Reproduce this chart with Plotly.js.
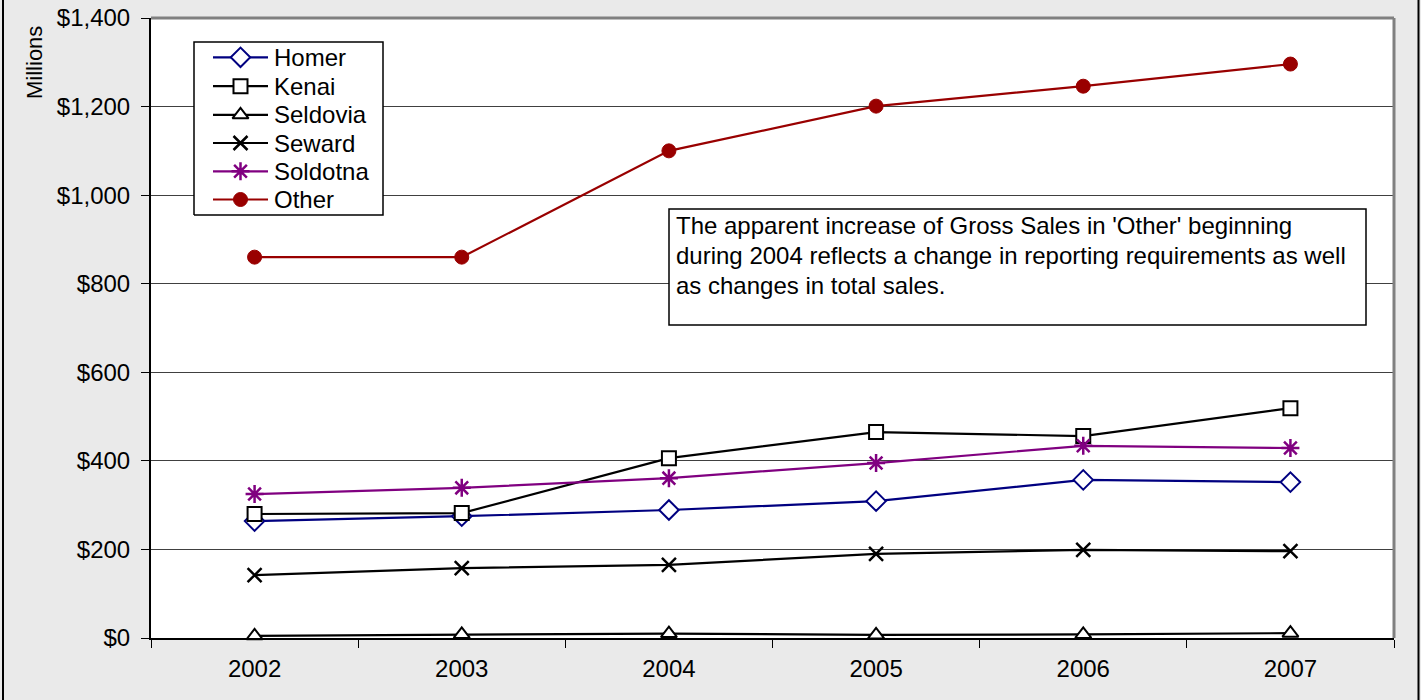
<!DOCTYPE html>
<html>
<head>
<meta charset="utf-8">
<script src="https://cdn.plot.ly/plotly-3.0.1.min.js"></script>
<style>html,body{margin:0;padding:0;background:#EAEAEA;}#chart{width:1421px;height:700px;}</style>
</head>
<body>
<div id="chart"></div>
<script>
const years = ['2002', '2003', '2004', '2005', '2006', '2007'];
const seriesNames = ['Homer', 'Kenai', 'Seldovia', 'Seward', 'Soldotna', 'Other'];
const homer = [264, 275, 289, 309, 357, 352];
const kenai = [280, 282, 406, 465, 456, 519];
const seldovia = [5, 8, 10, 7, 8, 11];
const seward = [142, 158, 165, 190, 199, 196];
const soldotna = [325, 339, 361, 395, 434, 429];
const other = [860, 860, 1100, 1201, 1246, 1296];
const yTicks = [0, 200, 400, 600, 800, 1000, 1200, 1400];
const noteLines = [
  "The apparent increase of Gross Sales in 'Other' beginning",
  "during 2004 reflects a change in reporting requirements as well",
  "as changes in total sales."
];

const FONT = 'Liberation Sans, Arial, sans-serif';
const FS = 24;

// styles (color, symbol, size, fill, marker line width)
const styles = [
  {color: '#000080', symbol: 'diamond', size: 15, fill: '#FFFFFF', mlw: 2},
  {color: '#000000', symbol: 'square', size: 14, fill: '#FFFFFF', mlw: 2},
  {color: '#000000', symbol: 'triangle-up', size: 14, fill: '#FFFFFF', mlw: 2},
  {color: '#000000', symbol: 'x-thin', size: 14, fill: '#000000', mlw: 2.5},
  {color: '#800080', symbol: 'asterisk', size: 15, fill: '#800080', mlw: 2.5},
  {color: '#990000', symbol: 'circle', size: 14, fill: '#990000', mlw: 1}
];
const values = [homer, kenai, seldovia, seward, soldotna, other];

function mk(s) {
  return {symbol: s.symbol, size: s.size, color: s.fill, line: {color: s.color, width: s.mlw}, opacity: 1};
}

const data = values.map((v, i) => ({
  type: 'scatter', mode: 'lines+markers', name: seriesNames[i], x: years, y: v,
  line: {color: styles[i].color, width: 2.2},
  marker: mk(styles[i]),
  cliponaxis: false, showlegend: false
}));

// Manual legend geometry (paper coordinates of the plot area)
const plotL = 151, plotW = 1243, plotB = 638, plotH = 620;
const px = x => (x - plotL) / plotW;
const py = y => (plotB - y) / plotH;
const legRowY = [57.3, 86.2, 114.8, 143.0, 171.3, 199.5];
const legLine = [213, 268], legMarkX = 240.5, legTextX = 272;
const legBox = {l: 194, r: 383, t: 42, b: 215};
const noteBox = {l: 669, r: 1366, t: 209, b: 325};
const noteRowY = [225.5, 255.5, 285.5], noteTextX = 674;

// legend box as a filled trace on an overlay axis (drawn above gridlines)
data.push({
  type: 'scatter', mode: 'lines', xaxis: 'x2', yaxis: 'y2',
  x: [px(legBox.l), px(legBox.r), px(legBox.r), px(legBox.l), px(legBox.l)],
  y: [py(legBox.b), py(legBox.b), py(legBox.t), py(legBox.t), py(legBox.b)],
  fill: 'toself', fillcolor: '#FFFFFF', line: {color: '#000000', width: 1.5},
  cliponaxis: false, showlegend: false, hoverinfo: 'skip'
});
seriesNames.forEach((n, i) => {
  const s = styles[i];
  data.push({
    type: 'scatter', mode: 'lines+markers', xaxis: 'x2', yaxis: 'y2', name: n,
    x: [px(legLine[0]), px(legMarkX), px(legLine[1])],
    y: [py(legRowY[i]), py(legRowY[i]), py(legRowY[i])],
    line: {color: s.color, width: 2.2},
    marker: {symbol: s.symbol, size: [0, s.size, 0], color: s.fill, opacity: 1,
             line: {color: s.color, width: s.mlw}},
    cliponaxis: false, showlegend: false, hoverinfo: 'skip'
  });
});

const shapes = [
  {type: 'line', xref: 'paper', yref: 'paper', x0: 0, x1: 1, y0: 1, y1: 1, line: {color: '#808080', width: 3}},
  {type: 'line', xref: 'paper', yref: 'paper', x0: 1, x1: 1, y0: 0, y1: 1, line: {color: '#808080', width: 3}},
  {type: 'line', xref: 'paper', yref: 'paper', x0: px(3), x1: px(3), y0: py(710), y1: py(-10), line: {color: '#000000', width: 2}},
  {type: 'line', xref: 'paper', yref: 'paper', x0: px(1418.5), x1: px(1418.5), y0: py(710), y1: py(-10), line: {color: '#000000', width: 2}},
  {type: 'rect', layer: 'above', xref: 'paper', yref: 'paper',
   x0: px(noteBox.l), x1: px(noteBox.r), y0: py(noteBox.b), y1: py(noteBox.t),
   fillcolor: '#FFFFFF', line: {color: '#000000', width: 1.5}}
];
const annotations = [
  {
    xref: 'paper', yref: 'paper', x: px(35), y: py(62), xanchor: 'center', yanchor: 'middle',
    text: 'Millions', showarrow: false, textangle: -90,
    font: {family: FONT, size: 22, color: '#000000'}
  }
];
noteLines.forEach((t, i) => {
  annotations.push({xref: 'paper', yref: 'paper', x: px(noteTextX), y: py(noteRowY[i]),
    xanchor: 'left', yanchor: 'middle', text: t, showarrow: false,
    font: {family: FONT, size: FS, color: '#000000'}});
});
seriesNames.forEach((n, i) => {
  annotations.push({xref: 'paper', yref: 'paper', x: px(legTextX), y: py(legRowY[i]),
    xanchor: 'left', yanchor: 'middle', text: n, showarrow: false,
    font: {family: FONT, size: FS, color: '#000000'}});
});

const layout = {
  width: 1421, height: 700,
  paper_bgcolor: '#EAEAEA', plot_bgcolor: '#FFFFFF',
  margin: {l: 151, r: 27, t: 18, b: 62},
  font: {family: FONT, size: FS, color: '#000000'},
  showlegend: false,
  xaxis: {
    type: 'category', range: [-0.5, 5.5], tickson: 'boundaries',
    showgrid: false, zeroline: false,
    showline: true, linecolor: '#000000', linewidth: 2,
    ticks: 'outside', ticklen: 8, tickcolor: '#000000', tickwidth: 1,
    tickfont: {family: FONT, size: FS, color: '#000000'},
    ticklabelstandoff: 8,
    fixedrange: true
  },
  yaxis: {
    range: [0, 1400], tickvals: yTicks, tickformat: '$,.0f',
    showgrid: true, gridcolor: '#404040', gridwidth: 1, zeroline: false,
    showline: true, linecolor: '#000000', linewidth: 2,
    ticks: 'outside', ticklen: 8, tickcolor: '#000000', tickwidth: 1,
    tickfont: {family: FONT, size: FS, color: '#000000'},
    ticklabelstandoff: 6,
    fixedrange: true
  },
  xaxis2: {overlaying: 'x', range: [0, 1], visible: false, fixedrange: true},
  yaxis2: {overlaying: 'y', range: [0, 1], visible: false, fixedrange: true},
  shapes: shapes,
  annotations: annotations
};

Plotly.newPlot('chart', data, layout, {displayModeBar: false, staticPlot: true});
</script>
</body>
</html>
